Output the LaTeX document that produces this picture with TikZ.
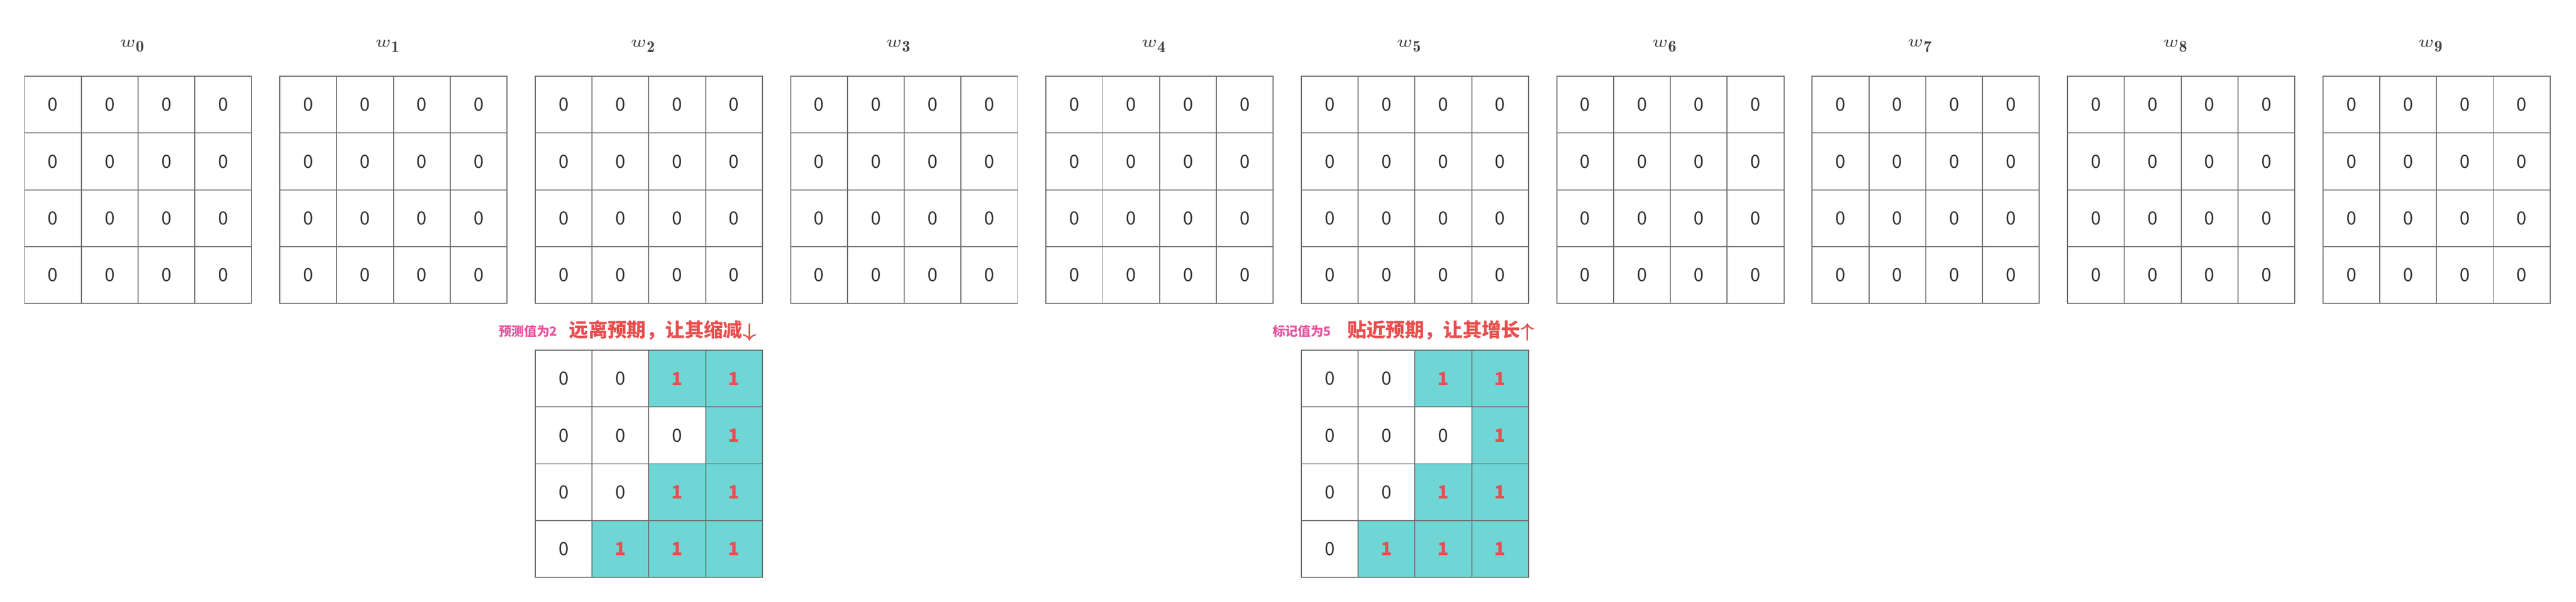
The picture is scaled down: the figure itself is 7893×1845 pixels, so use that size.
\documentclass[tikz,border=0pt]{standalone}
\usepackage{fontspec}
\newfontfamily\cjk{Noto Sans CJK SC}
\newfontfamily\cjkheavy{Noto Sans CJK SC Black}
\definecolor{gridline}{HTML}{6E6E6E}
\definecolor{teal1}{HTML}{6FD5D5}
\definecolor{redtxt}{HTML}{E84F4F}
\definecolor{pinktxt}{HTML}{E8559F}
\definecolor{digit}{HTML}{333333}
\tikzset{
  cell/.style={draw=gridline, line width=0.3pt, minimum width=17.4pt, minimum height=17.4pt,
    inner sep=0pt, outer sep=0pt, font=\cjk\fontsize{5.6}{6}\selectfont, text=digit},
  cell0/.style={cell},
  cell1/.style={cell, fill=teal1, text=redtxt, font=\cjk\bfseries\fontsize{5.6}{6}\selectfont},
  wlab/.style={inner sep=0pt, font=\fontsize{5}{6}\selectfont, text=black!75},
  hint/.style={inner sep=0pt, font=\cjk\bfseries\fontsize{3.9}{4.5}\selectfont, text=pinktxt},
  note/.style={inner sep=0pt, font=\cjkheavy\fontsize{5.9}{7}\selectfont, text=redtxt}
}
\begin{document}
\begin{tikzpicture}[x=0.1pt, y=-0.1pt]
\useasboundingbox (0,0) rectangle (7893,1845);
% top row of ten weight grids
\foreach \k in {0,...,9} {
  \pgfmathsetmacro\X{75+782.5*\k}
  \node[wlab] (w\k) at (\X+331,141) {$w_{\mathbf{\k}}$};
  \foreach \r in {0,...,3} {
    \foreach \c in {0,...,3} {
      \node[cell] (g\k-\r-\c) at (\X+87+174*\c, 321+174*\r) {0};
    }
  }
}
% lower grids under w2 and w5
\foreach \k in {2,5} {
  \pgfmathsetmacro\X{75+782.5*\k}
  \foreach \r/\a/\b/\cc/\d in {0/0/0/1/1, 1/0/0/0/1, 2/0/0/1/1, 3/0/1/1/1} {
    \foreach \c/\v in {0/\a, 1/\b, 2/\cc, 3/\d} {
      \node[cell\v] (p\k-\r-\c) at (\X+87+174*\c, 1160.5+174*\r) {\v};
    }
  }
}
\node[hint, anchor=east] (h2) at (1710,1016) {预测值为2};
\node[note, anchor=west] (n2) at (1742,1013) {远离预期，让其缩减{\boldmath$\downarrow$}};
\node[hint, anchor=east] (h5) at (4081,1016) {标记值为5};
\node[note, anchor=west] (n5) at (4126,1013) {贴近预期，让其增长{\boldmath$\uparrow$}};
\end{tikzpicture}
\end{document}
